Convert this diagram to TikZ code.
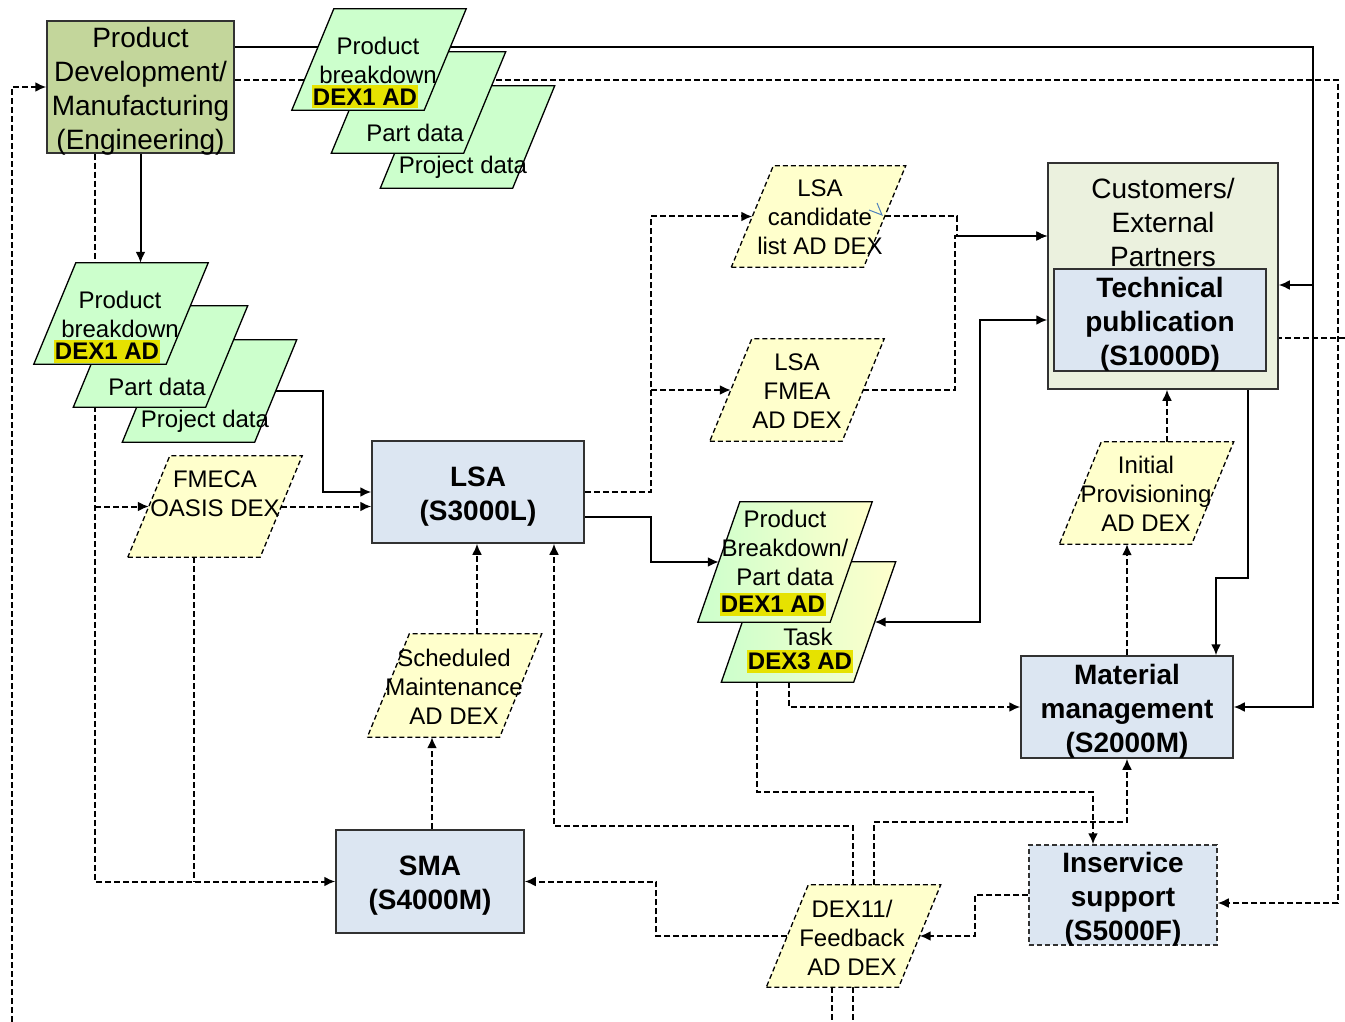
\documentclass[tikz,border=0pt]{standalone}
\usepackage{fontspec}
\setmainfont{Liberation Sans}
\usetikzlibrary{arrows.meta,backgrounds,calc}
\definecolor{pgreen}{RGB}{204,255,204}
\definecolor{pyellow}{RGB}{255,255,204}
\definecolor{boxblue}{RGB}{220,230,242}
\definecolor{olivebg}{RGB}{195,214,155}
\definecolor{custbg}{RGB}{235,241,222}
\definecolor{hl}{RGB}{230,226,0}
\definecolor{edgec}{RGB}{50,50,50}
\definecolor{markblue}{RGB}{79,129,189}
\newcommand\paraoutline[2]{\path[#1] ([xshift=-21pt]#2.south west) -- ([xshift=-21pt]#2.south east) -- ([xshift=21pt]#2.north east) -- ([xshift=21pt]#2.north west) -- cycle;}
\tikzset{
  big/.style={font=\fontsize{28}{34}\selectfont, align=center, inner sep=0pt},
  bigb/.style={font=\fontsize{28}{34}\selectfont\bfseries, align=center, inner sep=0pt},
  small/.style={font=\fontsize{24}{29}\selectfont, align=center, inner sep=0pt},
  hlbox/.style={fill=hl, font=\fontsize{24}{29}\selectfont\bfseries, inner sep=0pt, minimum width=106, minimum height=23},
  box/.style={draw=edgec, line width=1.5pt, fill=boxblue, inner sep=0pt},
  pshape/.style={minimum width=132, minimum height=#1, inner sep=0pt},
  gpara/.style={draw=black, line width=1.3pt, fill=pgreen},
  gradpara/.style={draw=black, line width=1.3pt, left color=pgreen, right color=pyellow},
  ypara/.style={draw=black, line width=1.3pt, fill=pyellow, dash pattern=on 5pt off 3pt},
  sl/.style={line width=2pt},
  dl/.style={line width=2pt, dash pattern=on 6pt off 3pt},
  arr/.style={-{Latex[length=11pt,width=10pt]}},
  dblarr/.style={{Latex[length=11pt,width=10pt]}-{Latex[length=11pt,width=10pt]}},
}
\begin{document}
\begin{tikzpicture}[x=1pt,y=-1pt]
\useasboundingbox (0,0) rectangle (1345,1022);

% ---------- boxes ----------
\node[box, fill=olivebg, minimum width=187, minimum height=132] (pd) at (140.5,87) {};
\node[big] (pdt) at (140.5,91) {Product\\Development/\\Manufacturing\\(Engineering)};
\node[box, fill=custbg, minimum width=230, minimum height=226] (cust) at (1163,276) {};
\node[big] (custt) at (1163,222) {Customers/\\External\\Partners};
\node[box, minimum width=212, minimum height=102] (tp) at (1160,320) {};
\node[bigb] (tpt) at (1160,324) {Technical\\publication\\(S1000D)};
\node[box, minimum width=212, minimum height=102] (lsa) at (478,492) {};
\node[bigb] (lsat) at (478,496.5) {LSA\\(S3000L)};
\node[box, minimum width=188, minimum height=103] (sma) at (430,881.5) {};
\node[bigb] (smat) at (430,885.5) {SMA\\(S4000M)};
\node[box, minimum width=212, minimum height=102] (mm) at (1127,707) {};
\node[bigb] (mmt) at (1127,711) {Material\\management\\(S2000M)};
\node[box, dash pattern=on 5pt off 3pt, minimum width=188, minimum height=100] (isup) at (1123,895) {};
\node[bigb] (isupt) at (1123,899) {Inservice\\support\\(S5000F)};

% ---------- parallelogram frames ----------
\node[pshape=101] (up1) at (379,59.5) {};
\node[pshape=101] (up2) at (418.5,102.5) {};
\node[pshape=102] (up3) at (467.5,137) {};
\node[pshape=101] (lp1) at (121,313.5) {};
\node[pshape=101] (lp2) at (160.5,356.5) {};
\node[pshape=102] (lp3) at (209.5,391) {};
\node[pshape=101] (fmeca) at (215,506.5) {};
\node[pshape=101] (cand) at (818.5,216.5) {};
\node[pshape=102] (fmea) at (797,390) {};
\node[pshape=102] (ip) at (1146.5,493) {};
\node[pshape=103] (sm) at (454.5,685.5) {};
\node[pshape=102] (fb) at (853.5,936) {};
\node[pshape=120] (task) at (808.5,622) {};
\node[pshape=120] (pb) at (785,562) {};

\paraoutline{gpara}{up3}
\paraoutline{gpara}{up2}
\paraoutline{gpara}{up1}
\paraoutline{gpara}{lp3}
\paraoutline{gpara}{lp2}
\paraoutline{gpara}{lp1}
\paraoutline{ypara}{fmeca}
\paraoutline{ypara}{cand}
\paraoutline{ypara}{fmea}
\paraoutline{ypara}{ip}
\paraoutline{ypara}{sm}
\paraoutline{ypara}{fb}
\paraoutline{gradpara}{task}
\paraoutline{gradpara}{pb}

% ---------- parallelogram texts ----------
\node[hlbox] (up1h) at (365,97) {DEX1 AD};
\node[small] (up1t) at (378,60) {Product\\breakdown};
\node[small] (up2t) at (415,133) {Part data};
\node[small] (up3t) at (463,167) {Project data};
\node[hlbox] (lp1h) at (107,351) {DEX1 AD};
\node[small] (lp1t) at (120,314) {Product\\breakdown};
\node[small] (lp2t) at (157,387) {Part data};
\node[small] (lp3t) at (205,421) {Project data};
\node[small] (fmecat) at (215,494) {FMECA\\OASIS DEX};
\node[small] (candt) at (820,217) {LSA\\candidate\\list AD DEX};
\node[small] (fmeat) at (797,391) {LSA\\FMEA\\AD DEX};
\node[small] (ipt) at (1146,494) {Initial\\Provisioning\\AD DEX};
\node[small] (smt) at (454,687) {Scheduled\\Maintenance\\AD DEX};
\node[small] (fbt) at (852,938) {DEX11/\\Feedback\\AD DEX};
\node[small] (pbt) at (785,548) {Product\\Breakdown/\\Part data};
\node[hlbox] (pbh) at (773,604) {DEX1 AD};
\node[small] (taskt) at (808,637) {Task};
\node[hlbox] (taskh) at (800,661) {DEX3 AD};

% small blue mark
\draw[markblue, line width=1pt] (869,210) -- (882,215) -- (877,203);

% ---------- connectors ----------
\begin{pgfonlayer}{background}
\coordinate (a1) at (1313,47);
\coordinate (a2) at (1313,285);
\draw[sl, arr] (pd.east |- a1) -- (a1) |- (mm.east);
\draw[sl, arr] (a2) -- (cust.east |- a2);

\coordinate (b1) at (1338,80);
\coordinate (b2) at (1338,903);
\coordinate (b3) at (1345,338);
\draw[dl, arr] (pd.east |- b1) -- (b1) -- (b2) -- (isup.east |- b2);
\draw[dl, arr] (b3) -- (tp.east |- b3);

\coordinate (c1) at (12,1022);
\draw[dl, arr] (c1) |- (pd.west);

\draw[sl, arr] (pd.south) -- (pd.south |- lp1.north);

\coordinate (e1) at (95,506.5);
\coordinate (e2) at (194,881.5);
\draw[dl, arr] (pd.south -| e1) |- (sma.west);
\draw[dl, arr] (e1) -- (fmeca.west);
\draw[dl] (fmeca.south -| e2) -- (e2);
\draw[dl, arr] (fmeca.east) -- (fmeca.east -| lsa.west);

\coordinate (g1) at (323,492);
\draw[sl, arr] (lp3.east) -| (g1) -- (lsa.west);

\coordinate (h1) at (651,216.5);
\draw[dl, arr] (lsa.east) -| (h1) -- (cand.west);
\draw[dl, arr] (h1 |- fmea.west) -- (fmea.west);

\coordinate (i0) at (651,517);
\draw[sl, arr] (lsa.east |- i0) -- (i0) |- (pb.west);

\coordinate (j1) at (957,236);
\coordinate (j2) at (955,236);
\draw[dl, arr] (cand.east) -| (j1) -- (cust.west |- j1);
\draw[dl, arr] (fmea.east) -| (j2) -- (cust.west |- j2);

\coordinate (k1) at (980,320);
\draw[sl, dblarr] (task.east) -| (k1) -- (cust.west |- k1);

\coordinate (m1) at (1248,578);
\coordinate (m2) at (1216,578);
\draw[sl, arr] (tp.south -| m1) -- (m1) -- (m2) -- (mm.north -| m2);

\draw[dl, arr] (mm.north) -- (mm.north |- ip.south);
\coordinate (n2) at (1167,442);
\draw[dl, arr] (ip.north -| n2) -- (cust.south -| n2);

\coordinate (o1) at (789,707);
\draw[dl, arr] (task.south -| o1) -- (o1) -- (mm.west |- o1);

\coordinate (p1) at (757,792);
\coordinate (p2) at (1093,792);
\draw[dl, arr] (task.south -| p1) -- (p1) -- (p2) -- (isup.north -| p2);

\coordinate (q1) at (874,822);
\coordinate (q2) at (1127,822);
\draw[dl, arr] (fb.north -| q1) -- (q1) -- (q2) -- (mm.south -| q2);

\coordinate (r1) at (853,826);
\coordinate (r2) at (554,826);
\draw[dl, arr] (fb.north -| r1) -- (r1) -- (r2) -- (lsa.south -| r2);

\coordinate (s1) at (656,881.5);
\draw[dl, arr] (fb.west) -| (s1) -- (sma.east);

\coordinate (t1) at (975,936);
\draw[dl, arr] (isup.west) -| (t1) -- (fb.east);

\coordinate (u1) at (832,1022);
\coordinate (u2) at (853,1022);
\draw[dl] (fb.south -| u1) -- (u1);
\draw[dl] (fb.south -| u2) -- (u2);

\coordinate (v1) at (477,600);
\draw[dl, arr] (sm.north -| v1) -- (lsa.south -| v1);
\coordinate (w1) at (432,800);
\draw[dl, arr] (sma.north -| w1) -- (sm.south -| w1);
\end{pgfonlayer}
\end{tikzpicture}
\end{document}
